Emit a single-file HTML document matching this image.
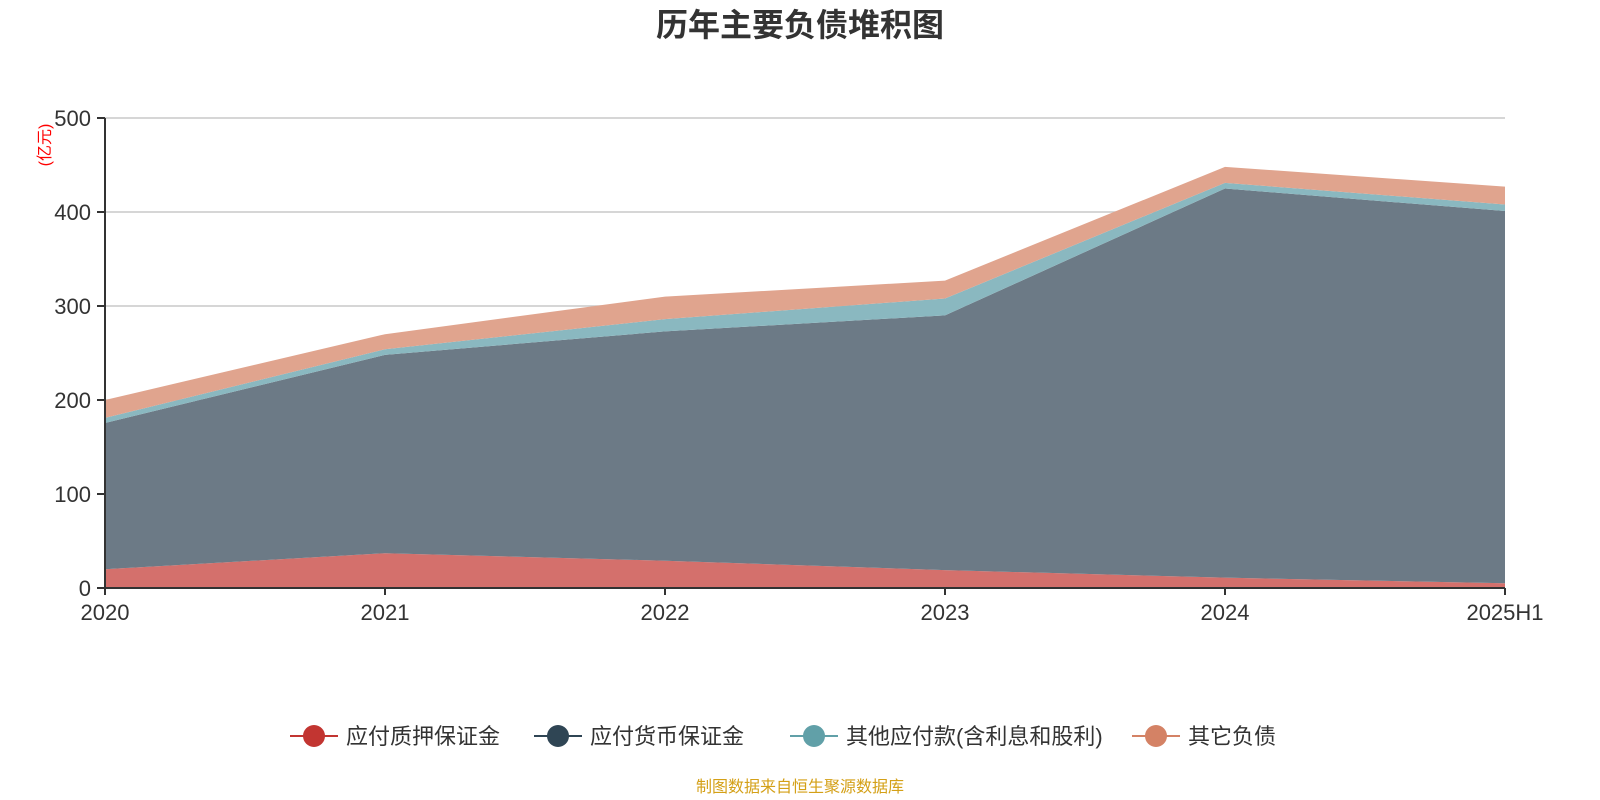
<!DOCTYPE html>
<html><head><meta charset="utf-8"><style>
html,body{margin:0;padding:0;background:#fff;}
svg{display:block;font-family:"Liberation Sans","Noto Sans CJK SC",sans-serif;}
</style></head><body>
<svg id="chart" width="1600" height="800" viewBox="0 0 1600 800">
<text x="800" y="36" text-anchor="middle" font-size="32" font-weight="bold" fill="#333">历年主要负债堆积图</text>
<text transform="translate(50,145) rotate(-90)" text-anchor="middle" font-size="16" fill="#ff0000">(亿元)</text>
<g id="grid"></g><g id="areas"></g><g id="axes"></g>
<g id="legend"></g>
<text x="800" y="792" text-anchor="middle" font-size="16" fill="#d4a017">制图数据来自恒生聚源数据库</text>
</svg>
<script>
const categories=["2020","2021","2022","2023","2024","2025H1"];
const seriesNames=["应付质押保证金","应付货币保证金","其他应付款(含利息和股利)","其它负债"];
const pledgeMargin=[20,37,29,19,11,5];
const currencyMargin=[155.5,211,244,271,414,396];
const otherPayables=[5.5,6,13,18,6,7];
const otherLiabilities=[19,16,24,19,17,19];
const yTicks=[0,100,200,300,400,500];
const colors=["#d4706c","#6c7a86","#8ab8c0","#e0a48e"];
const legendColors=["#c23531","#2f4554","#61a0a8","#d48265"];
const NS="http://www.w3.org/2000/svg";
const x0=105,x1=1505,yb=588,yt=118,ymax=500;
const X=i=>x0+(x1-x0)*i/(categories.length-1);
const Y=v=>yb-(yb-yt)*v/ymax;
function mk(t,a,p){const e=document.createElementNS(NS,t);for(const k in a)e.setAttribute(k,a[k]);p.appendChild(e);return e;}
const grid=document.getElementById('grid'),areas=document.getElementById('areas'),axes=document.getElementById('axes'),legend=document.getElementById('legend');
yTicks.forEach(v=>{
 if(v>0){const l=mk('line',{x1:x0,x2:x1,y1:Y(v),y2:Y(v),stroke:'#c8c8c8','stroke-width':1.5},grid);
 
 }
 const tk=mk('line',{x1:x0-8,x2:x0,y1:Y(v),y2:Y(v),stroke:'#333','stroke-width':2},axes);
 
 
 const t=mk('text',{x:x0-14,y:Y(v)+8,'text-anchor':'end','font-size':22,fill:'#333'},axes);
 t.textContent=v;
 
 
});
const data=[pledgeMargin,currencyMargin,otherPayables,otherLiabilities];
let base=categories.map(()=>0);
data.forEach((s,si)=>{
 const top=base.map((b,i)=>b+s[i]);
 let d='M'+categories.map((c,i)=>X(i)+','+Y(top[i])).join(' L');
 for(let i=categories.length-1;i>=0;i--)d+=' L'+X(i)+','+Y(base[i]);
 d+=' Z';
 const p=mk('path',{d:d,fill:colors[si]},areas);
 
 
 base=top;
});
mk('line',{x1:x0,x2:x0,y1:yt,y2:yb,stroke:'#333','stroke-width':2},axes);
mk('line',{x1:x0,x2:x1,y1:yb,y2:yb,stroke:'#333','stroke-width':2},axes);
categories.forEach((c,i)=>{
 mk('line',{x1:X(i),x2:X(i),y1:yb,y2:yb+7,stroke:'#333','stroke-width':2},axes);
 const t=mk('text',{x:X(i),y:620,'text-anchor':'middle','font-size':22,fill:'#333'},axes);
 t.textContent=c;
 
 
});
const lx=[290,534,790,1132];
seriesNames.forEach((n,i)=>{
 const g=mk('g',{},legend);
 
 
 mk('line',{x1:lx[i],x2:lx[i]+48,y1:736,y2:736,stroke:legendColors[i],'stroke-width':2},g);
 mk('circle',{cx:lx[i]+24,cy:736,r:11,fill:legendColors[i]},g);
 const t=mk('text',{x:lx[i]+56,y:744,'font-size':22,fill:'#333'},g);
 t.textContent=n;
});
</script>
</body></html>
